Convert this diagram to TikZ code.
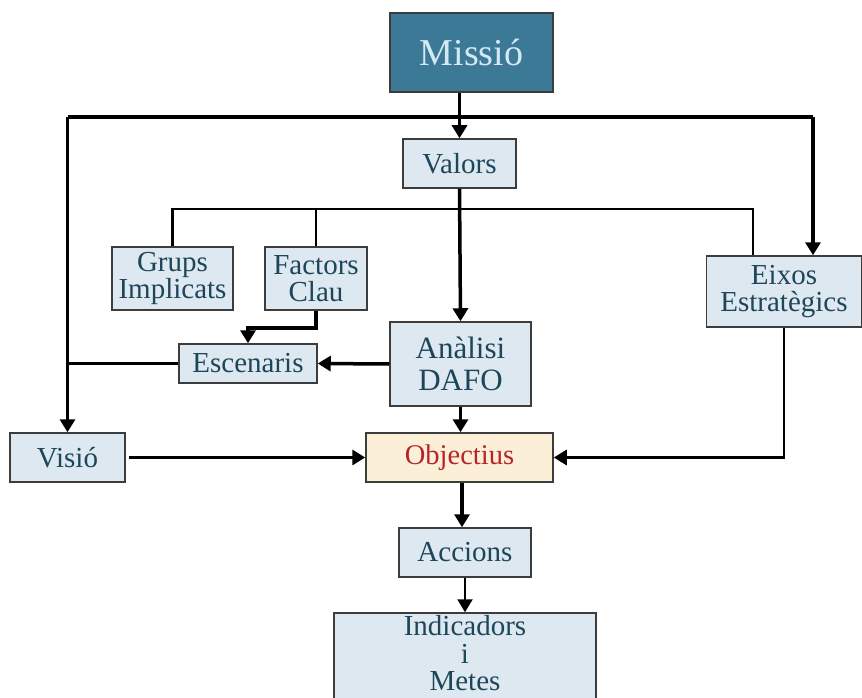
\documentclass[tikz,border=0pt]{standalone}
\usepackage{fontspec}
\setmainfont{Liberation Serif}
\usetikzlibrary{arrows.meta,calc}
\definecolor{boxfill}{RGB}{221,232,240}
\definecolor{boxtext}{RGB}{30,70,90}
\definecolor{missiofill}{RGB}{60,121,150}
\definecolor{missiotext}{RGB}{212,233,245}
\definecolor{goalfill}{RGB}{252,239,215}
\definecolor{goaltext}{RGB}{185,35,40}
\definecolor{edgegray}{RGB}{60,60,60}
\tikzstyle{box} = [rectangle, draw=edgegray, line width=1.5pt, fill=boxfill, text=boxtext, align=center, inner sep=0pt, font=\fontsize{29}{27}\selectfont]
\tikzstyle{link} = [line width=3.5pt]
\tikzstyle{thinlink} = [line width=2.2pt]
\tikzstyle{tip} = [-{Triangle[width=15pt,length=13pt]}]

\begin{document}
\begin{tikzpicture}[x=1pt,y=-1pt]
    \useasboundingbox (0,0) rectangle (862,698);
    \clip (0,0) rectangle (862,698);
    % boxes
    \node [box, fill=missiofill, text=missiotext, font=\fontsize{38}{38}\selectfont, minimum width=163pt, minimum height=79pt] (missio) at (471.5,52.5) {Missió};
    \node [box, minimum width=113pt, minimum height=49pt] (valors) at (459.5,163.5) {Valors};
    \node [box, minimum width=121pt, minimum height=63pt] (grups) at (172.5,278.5) {Grups\\Implicats};
    \node [box, minimum width=102pt, minimum height=63pt] (factors) at (316,278.5) {Factors\\Clau};
    \node [box, minimum width=155pt, minimum height=71pt] (eixos) at (784,291.5) {Eixos\\Estratègics};
    \node [box, minimum width=138pt, minimum height=39pt] (escenaris) at (248,363.5) {Escenaris};
    \node [box, font=\fontsize{31}{32}\selectfont, minimum width=141pt, minimum height=84pt] (analisi) at (460.5,364) {Anàlisi\\DAFO};
    \node [box, fill=goalfill, text=goaltext, font=\fontsize{28.5}{28}\selectfont, minimum width=187pt, minimum height=49pt] (objectius) at (459.5,457.5) {Objectius};
    \node [box, minimum width=115pt, minimum height=49pt] (visio) at (67.5,457.5) {Visió};
    \node [box, minimum width=132pt, minimum height=49pt] (accions) at (465,552.5) {Accions};
    \node [box, font=\fontsize{29}{27.5}\selectfont, text depth=10pt, minimum width=262pt, minimum height=90pt] (indicadors) at (465,658) {Indicadors\\i\\Metes};
    % connectors
    \coordinate (busL) at (67.5,117);
    \coordinate (busR) at (813,117);
    \coordinate (busbL) at (172.5,209);
    \coordinate (busbR) at (753,209);
    \draw [link, tip] (missio.south -| valors.north) -- (valors.north);
    \draw [link] (busL) -- (busR);
    \draw [link, tip] (busL) -- (visio.north);
    \draw [link, tip] (busR) -- (busR |- eixos.north);
    \draw [thinlink] (grups.north) -- (busbL) -- (busbR) -- (busbR |- eixos.north);
    \draw [thinlink] (factors.north |- busbL) -- (factors.north);
    \draw [link, tip] (valors.south) -- (analisi.north);
    \draw [link, tip] (factors.south) -- ++(0,17) -| (escenaris.north);
    \draw [link] (escenaris.west) -- (visio.north |- escenaris.west);
    \draw [link, tip] (analisi.west) -- (escenaris.east);
    \draw [link, tip] (analisi.south) -- (analisi.south |- objectius.north);
    \draw [link, tip, shorten <=3pt] (visio.east) -- (objectius.west);
    \draw [thinlink] (eixos.south) -- (eixos.south |- objectius.east);
    \draw [link, tip] ($(eixos.south |- objectius.east)+(1.1,0)$) -- (objectius.east);
    \draw [link, tip] (objectius.south -| 462,0) -- (accions.north -| 462,0);
    \draw [thinlink, tip] (accions.south) -- (indicadors.north);
\end{tikzpicture}
\end{document}
